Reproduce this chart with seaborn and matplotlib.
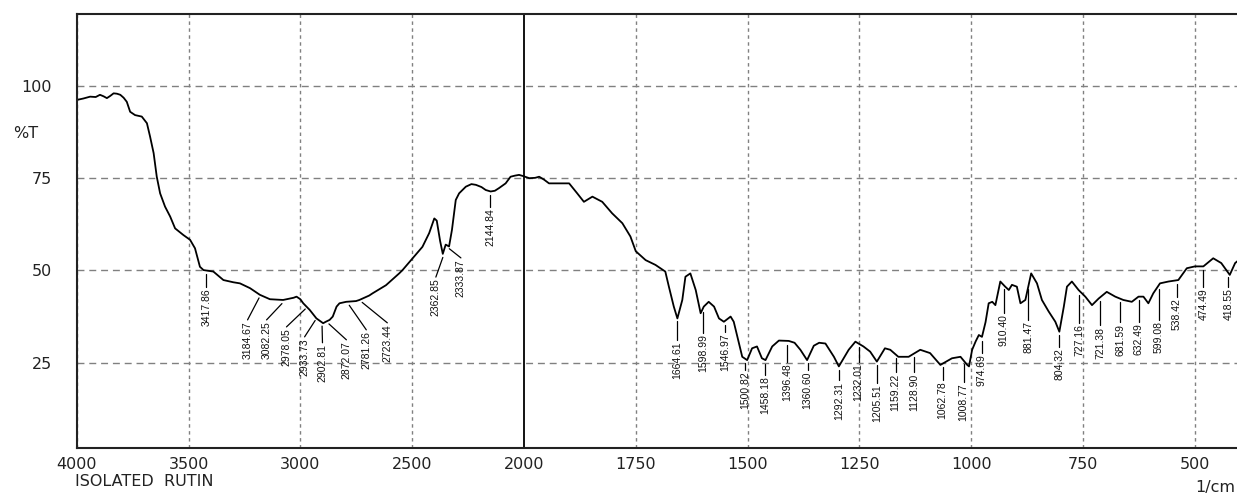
import numpy as np
import pandas as pd
import seaborn as sns
import matplotlib
matplotlib.use("Agg")
import matplotlib.pyplot as plt
from matplotlib.ticker import FixedLocator

# IR spectrum of isolated rutin (wavenumber in 1/cm, %T)
wavenumber = [4000, 3970, 3940, 3915, 3896, 3880, 3865, 3850, 3835, 3820, 3805, 3790,
              3776, 3761, 3739, 3709, 3686, 3672, 3656, 3642, 3627, 3605, 3582, 3560,
              3523, 3493, 3471, 3449, 3433, 3389, 3344, 3300, 3270, 3225, 3181, 3136,
              3077, 3030, 3017, 3000, 2987, 2958, 2928, 2898, 2886, 2869, 2855, 2838,
              2825, 2811, 2795, 2751, 2736, 2692, 2677, 2617, 2558, 2543, 2498, 2454,
              2424, 2401, 2390, 2375, 2363, 2350, 2335, 2322, 2305, 2290, 2260, 2235,
              2215, 2190, 2171, 2149, 2130, 2112, 2082, 2060, 2040, 2022, 2005, 1988,
              1975, 1966, 1955, 1944, 1922, 1899, 1881, 1866, 1847, 1825, 1803, 1780,
              1762, 1750, 1728, 1706, 1684, 1676, 1665, 1657, 1646, 1639, 1628, 1616,
              1605, 1598, 1587, 1575, 1564, 1553, 1538, 1531, 1523, 1512, 1501, 1490,
              1479, 1468, 1460, 1445, 1430, 1408, 1395, 1382, 1367, 1352, 1340, 1326,
              1307, 1296, 1274, 1259, 1241, 1226, 1211, 1193, 1181, 1163, 1140, 1114,
              1092, 1069, 1043, 1024, 1009, 1005, 998, 990, 983, 976, 968, 961, 953,
              946, 935, 924, 916, 909, 898, 890, 879, 866, 853, 842, 827, 812, 803,
              793, 786, 775, 760, 745, 730, 715, 697, 678, 660, 641, 626, 615, 604,
              593, 578, 559, 537, 518, 500, 481, 459, 441, 422, 410, 400]
transmittance = [96.2, 96.6, 97.1, 97.0, 97.6, 97.2, 96.7, 97.3, 98.0, 97.9, 97.6, 96.8,
                 95.7, 93.0, 92.1, 91.7, 89.9, 86.3, 81.8, 75.4, 70.9, 67.3, 64.6, 61.4,
                 59.6, 58.3, 56.0, 51.0, 50.1, 49.7, 47.4, 46.8, 46.5, 45.2, 43.4, 42.2,
                 42.0, 42.6, 42.9, 42.2, 41.1, 39.3, 37.0, 35.7, 36.1, 36.6, 37.5, 40.2,
                 41.1, 41.3, 41.5, 41.7, 42.0, 43.2, 43.8, 46.0, 49.2, 50.1, 53.3, 56.4,
                 60.1, 64.1, 63.5, 58.0, 54.5, 57.0, 56.5, 61.0, 69.1, 70.9, 72.7, 73.4,
                 73.2, 72.6, 71.8, 71.4, 71.6, 72.3, 73.6, 75.4, 75.7, 75.9, 75.6, 75.0,
                 75.1, 75.4, 74.6, 73.6, 73.6, 73.6, 70.9, 68.6, 70.0, 68.6, 65.5, 62.8,
                 59.2, 55.2, 52.8, 51.5, 49.7, 45.6, 40.2, 37.0, 42.0, 48.3, 49.2, 44.7,
                 38.4, 40.2, 41.5, 40.2, 37.0, 36.1, 37.5, 36.1, 32.1, 26.6, 25.7, 28.9,
                 29.4, 26.2, 25.7, 29.4, 31.0, 30.9, 30.4, 28.5, 25.7, 29.6, 30.4, 30.2,
                 26.6, 24.0, 28.5, 30.7, 29.4, 28.0, 25.3, 28.9, 28.5, 26.6, 26.6, 28.5,
                 27.6, 24.4, 26.2, 26.6, 24.4, 24.0, 28.5, 30.8, 32.5, 32.0, 36.0, 41.1, 41.5,
                 40.6, 47.0, 45.6, 44.7, 46.1, 45.6, 41.1, 42.0, 49.2, 46.5, 42.0, 38.9, 36.1, 33.4,
                 40.2, 45.6, 47.0, 44.7, 42.9, 40.6, 42.4, 44.2, 42.9, 42.0, 41.5, 42.9, 42.9, 41.1,
                 43.8, 46.5, 47.0, 47.4, 50.6, 51.1, 51.1, 53.3, 52.0, 48.8, 52.0, 53.0]

# peak labels printed by the instrument
peak_labels = ["3417.86", "3184.67", "3082.25", "2978.05", "2933.73", "2902.81",
               "2872.07", "2781.26", "2723.44", "2362.85", "2333.87", "2144.84",
               "1664.61", "1598.99", "1546.97", "1500.82", "1458.18", "1396.48",
               "1360.60", "1292.31", "1232.01", "1205.51", "1159.22", "1128.90",
               "1062.78", "1008.77", "974.69", "910.40", "881.47", "804.32",
               "727.16", "721.38", "681.59", "632.49", "599.08", "538.42",
               "474.49", "418.55"]

x_major = [4000, 3500, 3000, 2500, 2000, 1750, 1500, 1250, 1000, 750, 500]
y_major = [25, 50, 75, 100]

# where each label text sits (x in 1/cm, top of text in %T)
label_x = [3420, 3236, 3151, 3062, 2981, 2901, 2794, 2705, 2611, 2394, 2282, 2150,
           1658, 1600, 1551, 1505, 1460, 1411, 1366, 1296, 1252, 1210, 1169, 1128,
           1064, 1017, 976, 927, 872, 803, 758, 712, 667, 626, 581, 540, 481, 425]
label_top = [45.5, 36.6, 36.6, 34.7, 32.0, 30.4, 31.2, 33.9, 35.8, 48.2, 53.4, 67.2,
             31.2, 33.1, 33.3, 23.0, 21.7, 25.2, 23.0, 20.3, 25.2, 19.5, 22.5, 22.5,
             20.3, 19.8, 27.6, 38.5, 36.6, 29.3, 35.8, 35.2, 36.0, 36.0, 36.6, 42.8,
             45.5, 45.5]

df = pd.DataFrame({"wn": wavenumber, "T": transmittance})

sns.set_style("white")
plt.rcParams["font.family"] = ["DejaVu Sans"]

W, H = 1237, 494
fig = plt.figure(figsize=(W / 100, H / 100), dpi=100)
ax = fig.add_axes([76.7 / W, 1 - 448.3 / H, (1239.6 - 76.7) / W, (448.3 - 14) / H])

sns.lineplot(data=df, x="wn", y="T", ax=ax, color="black", linewidth=1.3,
             estimator=None, sort=False)


# wavenumber axis is expanded 2x below 2000 1/cm
def fwd(x):
    x = np.asarray(x, dtype=float)
    return np.where(x > 2000, 2000 + (x - 2000) / 2, x)


def inv(u):
    u = np.asarray(u, dtype=float)
    return np.where(u > 2000, 2000 + (u - 2000) * 2, u)


ax.set_xscale("function", functions=(fwd, inv))
ax.set_xlim(4000, 400)
ax.set_ylim(1.8, 119.5)

ax.xaxis.set_major_locator(FixedLocator(x_major))
minor_x = [v for v in list(range(4000, 2000, -100)) + list(range(2000, 400, -50))
           if v not in x_major]
ax.xaxis.set_minor_locator(FixedLocator(minor_x))
ax.yaxis.set_major_locator(FixedLocator(y_major))
ax.yaxis.set_minor_locator(FixedLocator([v for v in range(5, 120, 5) if v not in y_major]))
ax.set_xticklabels([str(v) for v in x_major])
ax.set_yticklabels([str(v) for v in y_major])

ax.tick_params(axis="y", which="major", direction="out", length=16, width=1.2,
               pad=2, labelsize=11.5, colors="#222222")
ax.tick_params(axis="y", which="minor", direction="out", length=8, width=1.2,
               colors="#222222")
ax.tick_params(axis="x", which="major", direction="inout", length=10, width=1.2,
               pad=1, labelsize=11.5, colors="#222222")
ax.tick_params(axis="x", which="minor", direction="out", length=5, width=1.2,
               colors="#222222")

for v in x_major:
    if v == 2000:
        ax.axvline(v, color="black", lw=1.3, zorder=1)
    else:
        ax.axvline(v, color="#808080", lw=1.0, ls=(0, (2.5, 2.5)), zorder=1)
for v in y_major:
    ax.axhline(v, color="#808080", lw=1.0, ls=(0, (5, 3.5)), zorder=1)

for s in ["left", "bottom", "top"]:
    ax.spines[s].set_color("#222222")
    ax.spines[s].set_linewidth(1.5)
ax.spines["right"].set_visible(False)

ax.set_xlabel("")
ax.set_ylabel("")

# peak labels with leader lines; the crowded ones above 2200 get slanted leaders
wn_asc = np.array(wavenumber[::-1], dtype=float)
t_asc = np.array(transmittance[::-1], dtype=float)
for txt, lx, top in zip(peak_labels, label_x, label_top):
    pk = float(txt)
    start = pk if 2200 < pk < 3300 else lx
    y0 = np.interp(start, wn_asc, t_asc) - 1.0
    ax.plot([start, lx], [y0, top], color="black", lw=0.9, zorder=3)
    ax.text(lx, top - 0.4, txt, rotation=90, ha="center", va="top",
            fontsize=7.5, family="Liberation Sans", color="#111111", zorder=3)

fig.text(13 / W, 1 - 133 / H, "%T", fontsize=11.5, va="center", ha="left", color="#222222")
fig.text(75 / W, 1 - 481 / H, "ISOLATED  RUTIN", fontsize=11.5, va="center",
         ha="left", color="#222222")
fig.text(1195 / W, 1 - 487 / H, "1/cm", fontsize=11.5, va="center", ha="left",
         color="#222222")

fig.savefig("out.png", dpi=100, facecolor="white")
